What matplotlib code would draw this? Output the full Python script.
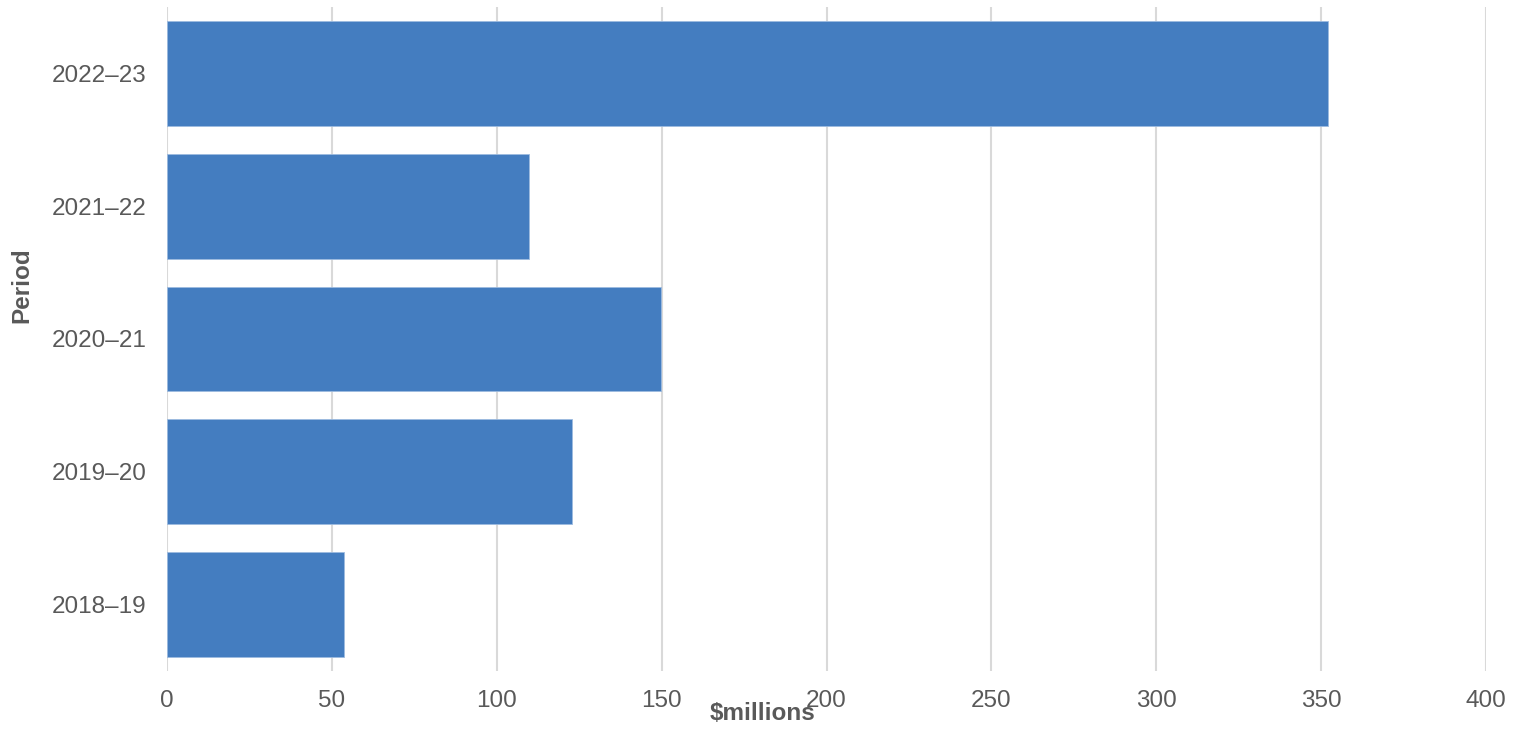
import matplotlib.pyplot as plt

# Data
periods = ['2018–19', '2019–20', '2020–21', '2021–22', '2022–23']
values = [53.6, 122.9, 149.9, 109.9, 352.0]

plt.rcParams['font.family'] = ['Liberation Sans', 'DejaVu Sans']

fig = plt.figure(figsize=(15.14, 7.29), dpi=100)
ax = fig.add_axes([167 / 1514, 1 - 671 / 729, (1486 - 167) / 1514, (671 - 7) / 729])

ax.barh(periods, values, height=0.79, color='#447DC0', edgecolor='#9dbbe0',
        linewidth=0.6, zorder=3)

ax.set_xlim(0, 400)
ax.set_ylim(-0.5, len(periods) - 0.5)
ax.set_xticks(range(0, 401, 50))
ax.grid(axis='x', color='#d9d9d9', linewidth=1.5, zorder=0)
ax.grid(axis='y', visible=False)
for s in ax.spines.values():
    s.set_visible(False)

ax.tick_params(axis='both', length=0, labelsize=17.5, labelcolor='#595959')
ax.tick_params(axis='x', pad=14)
ax.tick_params(axis='y', pad=15)

fig.text(763 / 1514, 1 - 714 / 729, '$millions', ha='center', va='center',
         fontsize=17.5, fontweight='bold', color='#595959')
fig.text(22 / 1514, 1 - 285 / 729, 'Period', ha='center', va='center',
         rotation=90, fontsize=17.5, fontweight='bold', color='#595959')

fig.savefig('out.png', dpi=100)
